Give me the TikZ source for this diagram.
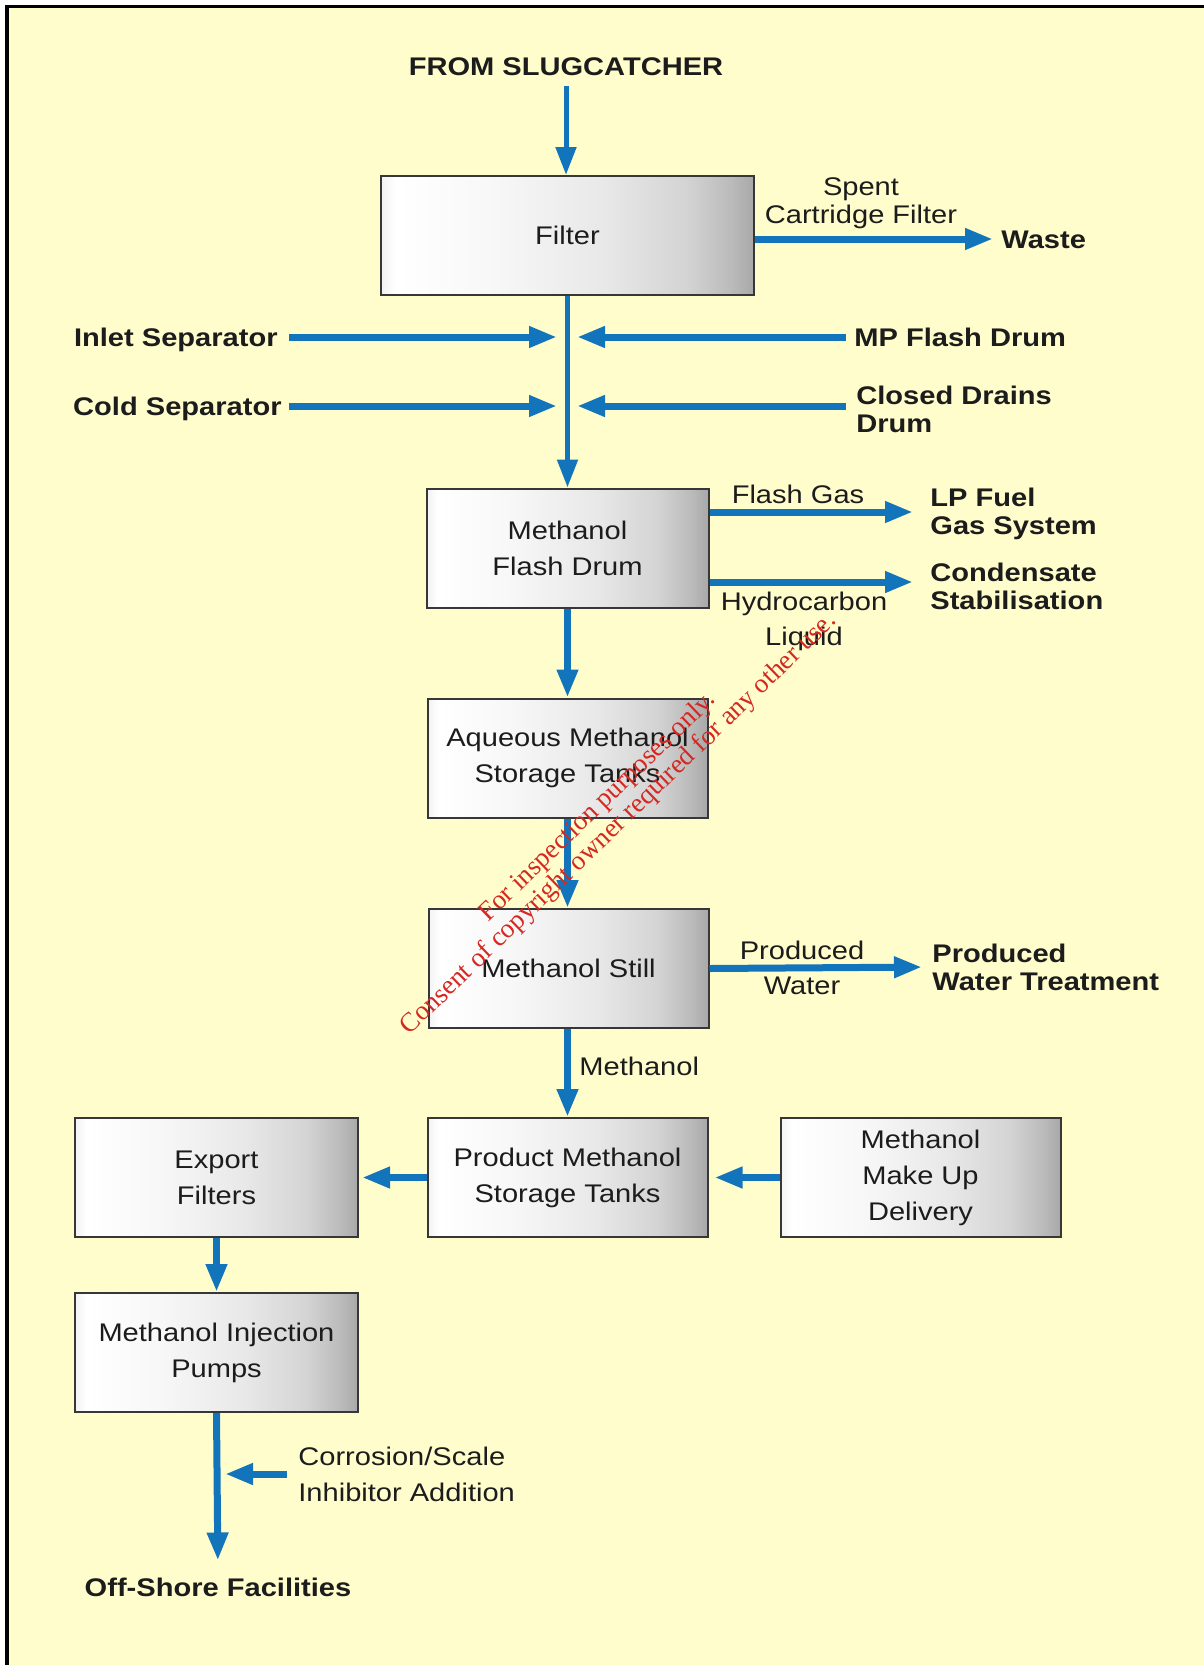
\documentclass[tikz,border=0pt]{standalone}
\usepackage{fontspec}
\setmainfont{Liberation Sans}[FakeStretch=1.14]
\newfontfamily\wmfont{Liberation Serif}
\usetikzlibrary{arrows.meta}

\definecolor{paper}{RGB}{255,253,204}
\definecolor{pipe}{RGB}{18,117,188}
\definecolor{edge}{RGB}{55,55,55}
\definecolor{ink}{RGB}{28,28,28}
\definecolor{stamp}{RGB}{214,40,32}

% grey-to-white gradient of the process boxes (path spans 25bp..75bp)
\pgfdeclarehorizontalshading{boxgrad}{100bp}{%
  color(0bp)=(black!5); color(25bp)=(black!5); color(27bp)=(white);
  color(40bp)=(black!3); color(55bp)=(black!9); color(66bp)=(black!17);
  color(72bp)=(black!27); color(75bp)=(black!34); color(100bp)=(black!34)}

\begin{document}
\begin{tikzpicture}[x=0.5pt,y=-0.5pt,
  unit/.style={draw=edge, line width=1pt, shading=boxgrad, text=ink,
    minimum width=140pt, minimum height=59.5pt, inner sep=0pt,
    align=center, font=\fontsize{12.75}{18}\selectfont},
  tag/.style={text=ink, inner sep=0pt, align=left,
    font=\fontsize{12.75}{14}\selectfont\bfseries},
  note/.style={text=ink, inner sep=0pt, align=center,
    font=\fontsize{12.75}{17.5}\selectfont},
  one/.style={text height=9.1pt, text depth=0pt},
  flow/.style={draw=pipe, line width=3.5pt,
    -{Triangle[length=14pt,width=10pt]}},
  thinflow/.style={draw=pipe, line width=2.5pt,
    -{Triangle[length=14pt,width=10pt]}},
  stampline/.style={text=stamp, inner sep=0pt, rotate=44,
    font=\wmfont\fontsize{13.5}{14}\selectfont}]

\useasboundingbox (0,0) rectangle (1204,1665);

% sheet with its frame
\fill[white] (0,0) rectangle (1204,1665);
\fill[paper] (7,6.5) rectangle (1204,1665);
\draw[black, line width=1.75pt] (7,1665) -- (7,6.5) -- (1204,6.5);

% process units
\node[unit, minimum width=186.5pt] (filter) at (567.5,235.5) {Filter};
\node[unit, minimum width=141pt] (flash) at (567.5,548) {Methanol\\Flash Drum};
\node[unit] (aqueous) at (567.5,758) {Aqueous Methanol\\Storage Tanks};
\node[unit] (still) at (568.5,968.5) {Methanol Still};
\node[unit] (product) at (567.5,1177.5) {Product Methanol\\Storage Tanks};
\node[unit, minimum width=141.5pt] (export) at (216.5,1177.5) {Export\\Filters};
\node[unit] (makeup) at (920.5,1177.5) {Methanol\\Make Up\\Delivery};
\node[unit, minimum width=141.5pt] (pumps) at (216.5,1352.5) {Methanol Injection\\Pumps};

% sources and destinations
\node[tag, one] (slug) at (566,66) {FROM SLUGCATCHER};
\node[tag, one, anchor=west] (waste) at (1001,239) {Waste};
\node[tag, one, anchor=east] (inlet) at (278,337) {Inlet Separator};
\node[tag, one, anchor=west] (mpflash) at (854,337) {MP Flash Drum};
\node[tag, one, anchor=east] (cold) at (282,406) {Cold Separator};
\node[tag, anchor=west] (drains) at (856,409) {Closed Drains\\Drum};
\node[tag, anchor=west] (lpfuel) at (930,514) {LP Fuel\\Gas System};
\node[tag, anchor=west] (stab) at (930,586.5) {Condensate\\Stabilisation};
\node[tag, anchor=west] (pwt) at (932,967) {Produced\\Water Treatment};
\node[tag, one] (offshore) at (218,1587) {Off-Shore Facilities};

% stream labels
\node[note, font=\fontsize{12.75}{14}\selectfont] (spent) at (861,203) {Spent\\Cartridge Filter};
\node[note, one] (flashgas) at (798,494) {Flash Gas};
\node[note] (hcliq) at (804,621) {Hydrocarbon\\Liquid};
\node[note] (pwater) at (802,968) {Produced\\Water};
\node[note, one, anchor=west] (meoh) at (579,1066) {Methanol};
\node[note, align=left, font=\fontsize{12.75}{18}\selectfont, anchor=west] (inhib) at (298,1474) {Corrosion/Scale\\Inhibitor Addition};

% free ends of the side streams
\coordinate (inletTip) at (557,337);
\coordinate (mpTip) at (577,337);
\coordinate (coldTip) at (557,406);
\coordinate (drainTip) at (577,406);
\coordinate (lpTip) at (913,512);
\coordinate (csTip) at (913,582);
\coordinate (inhibTip) at (225,1474);

% main train
\draw[thinflow, shorten <=5pt] (slug.south) -- (slug.south |- filter.north);
\draw[thinflow] (filter.south) -- (flash.north);
\draw[flow] (flash.south) -- (aqueous.north);
\draw[flow] (aqueous.south) -- (aqueous.south |- still.north);
\draw[flow] (aqueous.south |- still.south) -- (product.north);

% side streams
\draw[flow, shorten >=4pt] (filter.east |- waste.west) -- (waste.west);
\draw[flow, shorten <=5.5pt] (inlet.east) -- (inletTip);
\draw[flow, shorten <=4pt] (mpflash.west) -- (mpTip);
\draw[flow, shorten <=3.5pt] (cold.east) -- (coldTip);
\draw[flow, shorten <=5pt] (drains.west |- drainTip) -- (drainTip);
\draw[flow] (flash.east |- lpTip) -- (lpTip);
\draw[flow] (flash.east |- csTip) -- (csTip);
\draw[flow, shorten >=5pt] (still.east) -- (pwt.west);

% distribution
\draw[flow, shorten >=1.5pt] (product.west) -- (export.east);
\draw[flow, shorten >=3pt] (makeup.west) -- (product.east);
\draw[flow] (export.south) -- (pumps.north);
\draw[flow, shorten >=8.5pt] (pumps.south) -- (offshore.north);
\draw[flow, shorten <=5.5pt] (inhib.west) -- (inhibTip);

% copyright stamp
\node[stampline] (stampA) at (598,807) {For inspection purposes only.};
\node[stampline] (stampB) at (619,824) {Consent of copyright owner required for any other use.};

\end{tikzpicture}
\end{document}
